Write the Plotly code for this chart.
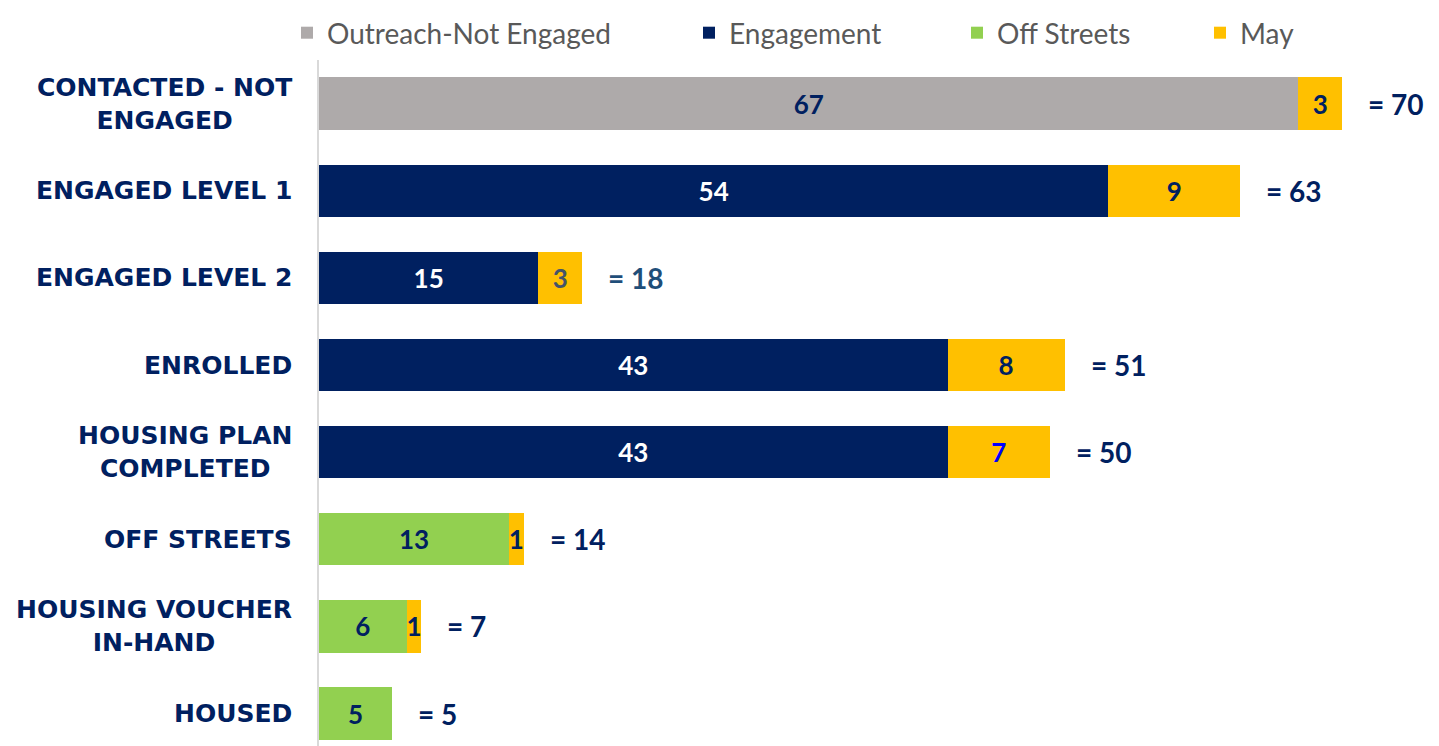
import plotly.graph_objects as go

categories = ["CONTACTED - NOT<br>ENGAGED", "ENGAGED LEVEL 1", "ENGAGED LEVEL 2", "ENROLLED",
              "HOUSING PLAN<br>COMPLETED", "OFF STREETS", "HOUSING VOUCHER<br>IN-HAND", "HOUSED"]
outreach = [67, None, None, None, None, None, None, None]
engagement = [None, 54, 15, 43, 43, None, None, None]
off_streets = [None, None, None, None, None, 13, 6, 5]
may = [3, 9, 3, 8, 7, 1, 1, None]

GRAY, NAVY, GREEN, GOLD = "#AEAAAA", "#002060", "#92D050", "#FFC000"
may_text_colors = [NAVY, NAVY, "#44546A", NAVY, "#0000FF", NAVY, NAVY, NAVY]
total_colors = [NAVY, NAVY, "#1F4E79", NAVY, NAVY, NAVY, NAVY, NAVY]

ypos = list(range(len(categories)))
NUM_FONT = "Lato"

fig = go.Figure()

def add(name, vals, color, txtcolor, legend):
    fig.add_trace(go.Bar(
        name=name, y=ypos, x=vals, orientation="h",
        marker=dict(color=color, line=dict(width=0)),
        text=[("" if v is None else str(v)) for v in vals],
        textposition="inside", insidetextanchor="middle", textangle=0,
        textfont=dict(family=NUM_FONT, size=26, color=txtcolor, weight="bold"),
        legend=legend, showlegend=True,
    ))

add("Outreach-Not Engaged", outreach, GRAY, NAVY, "legend")
add("Engagement", engagement, NAVY, "white", "legend2")
add("Off Streets", off_streets, GREEN, NAVY, "legend3")
add("May", may, GOLD, may_text_colors, "legend4")

totals = [sum(v for v in (a, b, c, d) if v is not None)
          for a, b, c, d in zip(outreach, engagement, off_streets, may)]

for i, (t, col) in enumerate(zip(totals, total_colors)):
    fig.add_annotation(x=t, y=i, xref="x", yref="y", text=f"= {t}", showarrow=False,
                       xanchor="left", xshift=24,
                       font=dict(family=NUM_FONT, size=28, color=col, weight="bold"))

for i, c in enumerate(categories):
    fig.add_annotation(x=0, y=i, xref="paper", yref="y", text=c, showarrow=False,
                       xanchor="right", xshift=-25, align="center",
                       font=dict(family="DejaVu Sans", size=25, color=NAVY, weight="bold"))

# page body has an 8px margin
OFF = 8
W, H = 1439 - OFF, 746 - OFF
L, R, T, B = 319 - OFF, 9, 60 - OFF, 0
pw = W - L - R
ph = H - T - B

def lx(px):
    return (px - OFF - L) / pw

leg_common = dict(orientation="h", yref="container", yanchor="top", y=1,
                  font=dict(family=NUM_FONT, size=28, color="#595959"),
                  bgcolor="rgba(0,0,0,0)", xanchor="left")

fig.update_layout(
    width=W, height=H,
    margin=dict(l=L, r=R, t=T, b=B, autoexpand=False),
    barmode="stack", bargap=0.4,
    plot_bgcolor="white", paper_bgcolor="white",
    uniformtext=dict(minsize=26, mode="show"),
    xaxis=dict(visible=False, range=[0, 76], fixedrange=True),
    yaxis=dict(range=[7.372, -0.5], showticklabels=False, showgrid=False, zeroline=False,
               showline=True, linecolor="#D9D9D9", linewidth=2, ticks=""),
    legend=dict(x=lx(287), **leg_common),
    legend2=dict(x=lx(689), **leg_common),
    legend3=dict(x=lx(957), **leg_common),
    legend4=dict(x=lx(1200), **leg_common),
)

fig.write_html("out.html")
